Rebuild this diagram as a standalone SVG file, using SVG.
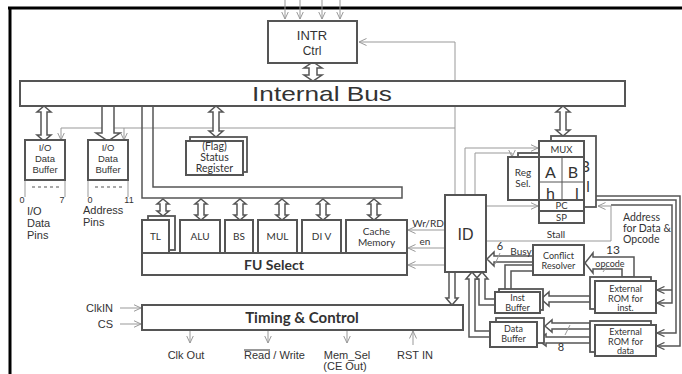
<svg xmlns="http://www.w3.org/2000/svg" width="682" height="374" viewBox="0 0 682 374">
<style>
.box{fill:#fff;stroke:#555;stroke-width:2}
.sh{fill:#fff;stroke:#555;stroke-width:1.8}
.ha{fill:#fff;stroke:#555;stroke-width:1.5}
.thk{fill:none;stroke:#555;stroke-width:1.5}
.thka{fill:none;stroke:#555;stroke-width:1.5;marker-end:url(#ahd)}
.sig{fill:none;stroke:#999;stroke-width:1;marker-end:url(#ah)}
.ln{fill:none;stroke:#999;stroke-width:1}
.a{font-family:"Liberation Sans",Arial,sans-serif;fill:#333}
.c{font-family:Lato,"Open Sans",sans-serif;fill:#333}
.m{text-anchor:middle}
</style>
<defs>
<marker id="ah" viewBox="0 0 8 8" refX="7.5" refY="4" markerWidth="8" markerHeight="8" markerUnits="userSpaceOnUse" orient="auto"><path d="M0,0.5 L7.5,4 L0,7.5" fill="none" stroke="#999" stroke-width="1"/></marker>
<marker id="ahd" viewBox="0 0 8 8" refX="7.5" refY="4" markerWidth="8" markerHeight="8" markerUnits="userSpaceOnUse" orient="auto"><path d="M0,0.5 L7.5,4 L0,7.5" fill="none" stroke="#555" stroke-width="1.3"/></marker>
</defs>
<rect width="682" height="374" fill="#fff"/>
<path d="M8,8 H682 M10,8 V374" stroke="#000" stroke-width="3" fill="none"/>

<g id="connectors">
<path class="sig" d="M285,0 V19"/><path class="sig" d="M300,0 V19"/><path class="sig" d="M322,0 V19"/><path class="sig" d="M340,0 V19"/>
<path class="sig" d="M455,195 V42 H359"/>
<path class="sig" d="M455,128 H61 V140"/>
<path class="sig" d="M124,128 V140"/>
<path class="ha" d="M313,62 L322,68 L317,68 L317,75 L322,75 L313,81 L304,75 L309,75 L309,68 L304,68 Z"/>
<path class="ha" d="M44,106 L51,112 L47,112 L47,135 L51,135 L44,141 L37,135 L41,135 L41,112 L37,112 Z"/>
<path class="ha" d="M102,106 V133 H96 L108,141 L120,133 H114 V106"/>
<path class="ha" d="M216,106 L223,112 L219,112 L219,131 L223,131 L216,137 L209,131 L213,131 L213,112 L209,112 Z"/>
<path class="ha" d="M563,106 L570,112 L566,112 L566,130 L570,130 L563,136 L556,130 L560,130 L560,112 L556,112 Z"/>
<path class="thk" d="M142,106 V198 H402 V187 H153 V106"/>
<path class="ha" d="M163,199 L169,204 L166,204 L166,211 L169,211 L163,216 L157,211 L160,211 L160,204 L157,204 Z"/>
<path class="ha" d="M201,199 L207,204 L204,204 L204,215 L207,215 L201,220 L195,215 L198,215 L198,204 L195,204 Z"/>
<path class="ha" d="M240,199 L246,204 L243,204 L243,215 L246,215 L240,220 L234,215 L237,215 L237,204 L234,204 Z"/>
<path class="ha" d="M282,199 L288,204 L285,204 L285,215 L288,215 L282,220 L276,215 L279,215 L279,204 L276,204 Z"/>
<path class="ha" d="M323,199 L329,204 L326,204 L326,215 L329,215 L323,220 L317,215 L320,215 L320,204 L317,204 Z"/>
<path class="ha" d="M374,199 L380,204 L377,204 L377,215 L380,215 L374,220 L368,215 L371,215 L371,204 L368,204 Z"/>
<path class="sig" d="M445,230 H408"/>
<path class="sig" d="M445,248 H408"/>
<path class="sig" d="M445,265 H408"/>
<path class="sig" d="M465,195 V148 H538"/>
<path class="sig" d="M475,195 V153 H512 V157"/>
<path class="sig" d="M486,206 H538"/>
<path class="sig" d="M486,241 H611 V206 H598"/>
<path class="thka" d="M596,196 H680 V346 H657"/>
<path class="thka" d="M596,200 H676 V333 H657"/>
<path class="thka" d="M611,205 H672 V303 H657"/>
<path class="thka" d="M672,290 H657"/>
<path class="ha" d="M487,259 L494,252 L494,256 L533,256 L533,262 L494,262 L494,266 Z"/>
<path class="ln" d="M495,264 L500,253"/>
<path class="ha" d="M585,263 L593,253 L593,257 L634,257 L634,277 L622,277 L622,269 L593,269 L593,273 Z"/>
<path class="ln" d="M603,272 L607,266"/>
<path class="thk" d="M505,289 V265 H533 M511,289 V271 H533"/>
<path class="ha" d="M541,299 L549,292 L549,296 L590,296 L590,302 L549,302 L549,306 Z"/>
<path class="ha" d="M545,326 L552,320 L552,323 L590,323 L590,329 L552,329 L552,332 Z"/>
<path class="ha" d="M538,340 L546,334 L546,337 L590,337 L590,343 L546,343 L546,346 Z"/>
<path class="ln" d="M565,335 L570,325"/>
<path class="ha" d="M482,272 L488,279 L485,279 L485,299 L495,299 L495,305 L479,305 L479,279 L476,279 Z"/>
<path class="ha" d="M472,272 L478,279 L475,279 L475,331 L490,331 L490,337 L469,337 L469,279 L466,279 Z"/>
<path class="ha" d="M449,272 V298 H446 L452,305 L458,298 H455 V272"/>
<path class="sig" d="M120,308 H141"/>
<path class="sig" d="M120,324 H141"/>
<path class="sig" d="M190,331 V343"/>
<path class="sig" d="M268,331 V343"/>
<path class="sig" d="M347,331 V343"/>
<path class="sig" d="M413,345 V331"/>
<path class="ln" d="M25,180 V197 M65,180 V197 M88,180 V197 M128,180 V197"/>
<path d="M32,187 H60 M95,187 H123" stroke="#555" stroke-width="1.2" stroke-dasharray="3,3"/>
</g>

<g id="intr">
<rect class="box" x="268" y="21" width="89" height="42"/>
<text class="a m" x="312" y="40" font-size="13">INTR</text>
<text class="a m" x="312" y="55" font-size="12">Ctrl</text>
</g>
<g id="bus">
<rect class="box" x="20" y="81" width="605" height="25"/>
<text class="a m" x="322" y="101" font-size="21" textLength="140" lengthAdjust="spacingAndGlyphs">Internal  Bus</text>
</g>
<g id="iobuf">
<rect class="box" x="25" y="140" width="40" height="40"/>
<text class="a m" x="45" y="151" font-size="9.5">I/O</text>
<text class="a m" x="45" y="162" font-size="9.5">Data</text>
<text class="a m" x="45" y="173" font-size="9.5">Buffer</text>
</g>
<g id="addrbuf">
<rect class="box" x="88" y="140" width="40" height="40"/>
<text class="a m" x="108" y="151" font-size="9.5">I/O</text>
<text class="a m" x="108" y="162" font-size="9.5">Data</text>
<text class="a m" x="108" y="173" font-size="9.5">Buffer</text>
</g>
<g id="pins">
<text class="a m" x="22" y="203" font-size="9">0</text>
<text class="a m" x="62" y="203" font-size="9">7</text>
<text class="a m" x="90" y="203" font-size="9">0</text>
<text class="a m" x="129" y="203" font-size="9">11</text>
<text class="a" x="27" y="215" font-size="11">I/O</text>
<text class="a" x="27" y="227" font-size="11">Data</text>
<text class="a" x="27" y="239" font-size="11">Pins</text>
<text class="a" x="83" y="214" font-size="11">Address</text>
<text class="a" x="83" y="226" font-size="11">Pins</text>
</g>
<g id="status">
<rect class="sh" x="190" y="137" width="57" height="35"/>
<rect class="box" x="186" y="141" width="57" height="34"/>
<text class="c m" x="214.5" y="150" font-size="10.5">(Flag)</text>
<text class="c m" x="214.5" y="161" font-size="10.5">Status</text>
<text class="c m" x="214.5" y="172" font-size="10.5">Register</text>
</g>
<g id="tl">
<rect class="sh" x="148" y="216" width="27" height="34"/>
<rect class="box" x="142" y="220" width="27" height="33"/>
<text class="c m" x="155.5" y="240" font-size="10">TL</text>
</g>
<g id="alu"><rect class="box" x="180" y="220" width="40" height="33"/><text class="c m" x="200" y="240" font-size="10">ALU</text></g>
<g id="bs"><rect class="box" x="225" y="220" width="28" height="33"/><text class="c m" x="239" y="240" font-size="10">BS</text></g>
<g id="mul"><rect class="box" x="258" y="220" width="39" height="33"/><text class="c m" x="277.5" y="240" font-size="10">MUL</text></g>
<g id="div"><rect class="box" x="302" y="220" width="39" height="33"/><text class="c m" x="321.5" y="240" font-size="10">DI V</text></g>
<g id="cache"><rect class="box" x="346" y="220" width="61" height="33"/>
<text class="c m" x="376.5" y="235" font-size="10">Cache</text>
<text class="c m" x="376.5" y="246" font-size="10">Memory</text></g>
<g id="fusel"><rect class="box" x="142" y="253" width="265" height="22"/>
<text class="c m" x="274" y="270" font-size="14" font-weight="bold">FU Select</text></g>
<g id="sigl">
<text class="c m" x="428" y="227" font-size="10">Wr/RD</text>
<text class="c m" x="425" y="245" font-size="10">en</text>
</g>
<g id="tc"><rect class="box" x="142" y="305" width="321" height="25"/>
<text class="c m" x="302" y="323" font-size="15" font-weight="bold">Timing &amp; Control</text></g>
<g id="tclabels">
<text class="a" x="113" y="312" font-size="11" text-anchor="end">ClkIN</text>
<text class="a" x="113" y="328" font-size="11" text-anchor="end">CS</text>
<text class="a m" x="186" y="359" font-size="11">Clk Out</text>
<text class="a" x="244" y="359" font-size="11">Read / Write</text>
<path d="M244,350 H270" stroke="#333" stroke-width="1"/>
<text class="a m" x="347" y="359" font-size="11">Mem_Sel</text>
<text class="a m" x="345" y="370" font-size="11">(CE Out)</text>
<text class="a m" x="415" y="359" font-size="11">RST IN</text>
</g>
<g id="id"><rect class="box" x="445" y="195" width="41" height="77"/>
<text class="a m" x="465.5" y="240" font-size="16">ID</text></g>
<g id="regsel">
<rect class="sh" x="518" y="153" width="21" height="43"/>
<rect class="box" x="508" y="157" width="31" height="43"/>
<text class="c m" x="523" y="176" font-size="10">Reg</text>
<text class="c m" x="523" y="187" font-size="10">Sel.</text>
</g>
<g id="regs">
<rect class="sh" x="551" y="136" width="45" height="71"/>
<text class="c m" x="585" y="172" font-size="15">B</text>
<text class="c m" x="588" y="192" font-size="15">l</text>
<rect class="box" x="539" y="141" width="45" height="16"/>
<text class="c m" x="561.5" y="152.5" font-size="9.5">MUX</text>
<rect class="box" x="539" y="157" width="45" height="43"/>
<path d="M562,157 V200 M539,182 H584" stroke="#555" stroke-width="1"/>
<text class="c m" x="550.5" y="178" font-size="16">A</text>
<text class="c m" x="573" y="178" font-size="16">B</text>
<text class="c m" x="550.5" y="199" font-size="16">h</text>
<text class="c m" x="577" y="199" font-size="16">l</text>
<rect class="box" x="539" y="200" width="45" height="11"/>
<text class="c m" x="561.5" y="209" font-size="9.5">PC</text>
<rect class="box" x="539" y="211" width="45" height="12"/>
<text class="c m" x="561.5" y="220.5" font-size="9.5">SP</text>
</g>
<g id="addrlbl">
<text class="c" x="623" y="221" font-size="10.5">Address</text>
<text class="c" x="623" y="232" font-size="10.5">for Data &amp;</text>
<text class="c" x="623" y="243" font-size="10.5">Opcode</text>
<text class="c m" x="556" y="238" font-size="10">Stall</text>
</g>
<g id="conflict"><rect class="box" x="533" y="245" width="51" height="30"/>
<text class="c m" x="558.5" y="259" font-size="9">Conflict</text>
<text class="c m" x="558.5" y="269" font-size="9">Resolver</text></g>
<g id="buslbl">
<text class="c m" x="500" y="250" font-size="11">6</text>
<text class="c m" x="521" y="255" font-size="10">Busy</text>
<text class="c m" x="613" y="254" font-size="12">13</text>
<text class="c m" x="610" y="267" font-size="9">opcode</text>
<text class="c m" x="561" y="351" font-size="11">8</text>
</g>
<g id="instbuf">
<rect class="sh" x="499" y="289" width="44" height="21"/>
<rect class="box" x="495" y="292" width="45" height="21"/>
<text class="c m" x="517.5" y="301" font-size="9">Inst</text>
<text class="c m" x="517.5" y="310.5" font-size="9">Buffer</text>
</g>
<g id="databuf">
<rect class="sh" x="496" y="318" width="48" height="25"/>
<rect class="box" x="490" y="322" width="47" height="25"/>
<text class="c m" x="513.5" y="332" font-size="9">Data</text>
<text class="c m" x="513.5" y="342" font-size="9">Buffer</text>
</g>
<g id="rominst">
<rect class="sh" x="590" y="277" width="61" height="32"/>
<rect class="box" x="595" y="281" width="61" height="32"/>
<text class="c m" x="625.5" y="292" font-size="9">External</text>
<text class="c m" x="625.5" y="301.5" font-size="9">ROM for</text>
<text class="c m" x="625.5" y="311" font-size="9">inst.</text>
</g>
<g id="romdata">
<rect class="sh" x="590" y="321" width="61" height="31"/>
<rect class="box" x="595" y="325" width="61" height="31"/>
<text class="c m" x="625.5" y="335" font-size="9">External</text>
<text class="c m" x="625.5" y="344.5" font-size="9">ROM for</text>
<text class="c m" x="625.5" y="354" font-size="9">data</text>
</g>
</svg>
